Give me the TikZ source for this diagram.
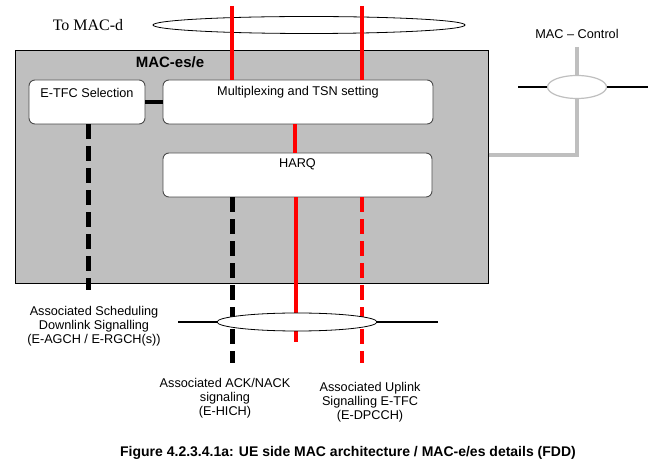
\documentclass[tikz,border=0pt]{standalone}
\usepackage{fontspec}
\setmainfont{Liberation Sans}
\newfontfamily\seriffont{Liberation Serif}
\usetikzlibrary{shapes, arrows.meta, calc, positioning}

\tikzset{
  blk/.style={draw=black!70, fill=white, rounded corners=6pt, line width=0.9pt, inner sep=0pt},
  redline/.style={draw=red, line width=4.5pt},
  reddash/.style={draw=red, line width=4.5pt, dash pattern=on 15pt off 7pt},
  blkdash/.style={draw=black, line width=5pt, dash pattern=on 15pt off 7pt},
  ctrlline/.style={draw=gray!50, line width=4pt},
  oval/.style={draw, ellipse, fill=white, line width=0.8pt, inner sep=0pt},
  txt/.style={font=\fontsize{12.7}{14}\selectfont, inner sep=0pt, align=center}
}

\begin{document}
\begin{tikzpicture}[x=1pt, y=-1pt]
  \useasboundingbox (0,0) rectangle (654,462);

  % MAC-es/e entity
  \node[draw, line width=1pt, fill=gray!50, minimum width=473pt, minimum height=233pt, inner sep=0pt] (macbox) at (251.5,167.5) {};
  \node[font=\bfseries\fontsize{15}{17}\selectfont, inner sep=0pt] (mactitle) at (170,62) {MAC-es/e};

  % Blocks
  \node[blk, minimum width=116pt, minimum height=44pt] (etfc) at (87,102) {};
  \node[txt] (etfctxt) at ($(etfc.north)+(0,13)$) {E-TFC Selection};
  \node[blk, minimum width=270pt, minimum height=44pt] (mux) at (298,102) {};
  \node[txt] (muxtxt) at ($(mux.north)+(0,13)$) {Multiplexing and TSN setting};
  \node[blk, minimum width=269pt, minimum height=44pt] (harq) at (297.5,175) {};
  \node[txt] (harqtxt) at ($(harq.north)+(0,12)$) {HARQ};
  \draw[line width=4pt] (etfc) -- (mux);

  % To MAC-d
  \node[font=\seriffont\fontsize{16}{18}\selectfont, inner sep=0pt] (tomacd) at (88,25) {To MAC-d};
  \node[oval, fill=none, minimum width=312pt, minimum height=17pt] (topell) at (309,25) {};
  \coordinate (upa) at (232,6);
  \coordinate (upb) at (362,6);
  \draw[redline] (upa) -- (upa |- mux.north);
  \draw[redline] (upb) -- (upb |- mux.north);

  % Mux to HARQ
  \coordinate (mid) at (295,0);
  \draw[redline] (mid |- mux.south) -- (mid |- harq.north);

  % Downlink / uplink channels
  \coordinate (etfcdl) at (88,290);
  \coordinate (ackend) at (232,363);
  \coordinate (harqout) at (296,342);
  \coordinate (ulend) at (362,363);
  \draw[blkdash] (etfcdl |- etfc.south) -- (etfcdl);
  \draw[blkdash] (ackend |- harq.south) -- (ackend);
  \draw[redline] (harqout |- harq.south) -- (harqout);
  \draw[reddash] (ulend |- harq.south) -- (ulend);

  % Air interface
  \coordinate (airl) at (178,322);
  \coordinate (airr) at (438,322);
  \node[oval, minimum width=160pt, minimum height=18pt] (botell) at (297,322) {};
  \draw[line width=1.5pt] (airl) -- (botell.west);
  \draw[line width=1.5pt] (botell.east) -- (airr);

  \node[txt] (schedtxt) at (94,326) {Associated Scheduling\\Downlink Signalling\\(E-AGCH / E-RGCH(s))};
  \node[txt] (acktxt) at (225,398) {Associated ACK/NACK\\signaling\\(E-HICH)};
  \node[txt] (ultxt) at (370,402) {Associated Uplink\\Signalling E-TFC\\(E-DPCCH)};

  % MAC control
  \node[txt] (ctrltxt) at (577,34) {MAC -- Control};
  \node[oval, draw=gray!50, line width=1.2pt, minimum width=59pt, minimum height=23pt] (ctrlell) at (577,87) {};
  \coordinate (ctrltop) at (577,47);
  \coordinate (ctrlbot) at (577,157);
  \coordinate (ctrljoin) at (577,155);
  \coordinate (ctrll) at (518,87);
  \coordinate (ctrlr) at (648,87);
  \draw[ctrlline] (ctrltop) -- (ctrlell.north);
  \draw[ctrlline] (ctrlell.south) -- (ctrlbot);
  \draw[ctrlline] (ctrljoin -| macbox.east) -- (ctrljoin);
  \draw[line width=2pt] (ctrll) -- (ctrlell.west);
  \draw[line width=2pt] (ctrlell.east) -- (ctrlr);

  % Caption
  \node[font=\bfseries\fontsize{14}{16}\selectfont, inner sep=0pt] (caption) at (348,453) {Figure 4.2.3.4.1a: UE side MAC architecture / MAC-e/es details (FDD)};
\end{tikzpicture}
\end{document}
